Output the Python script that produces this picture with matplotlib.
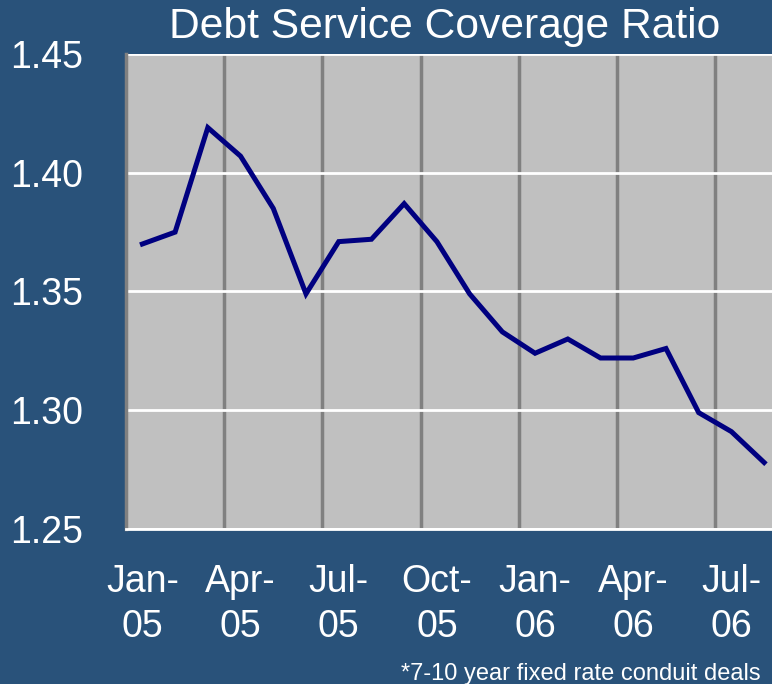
import matplotlib
matplotlib.use("Agg")
import matplotlib.pyplot as plt
import numpy as np

# monthly DSCR, Jan-05 .. Aug-06
months = ["Jan-05", "Feb-05", "Mar-05", "Apr-05", "May-05", "Jun-05", "Jul-05",
          "Aug-05", "Sep-05", "Oct-05", "Nov-05", "Dec-05", "Jan-06", "Feb-06",
          "Mar-06", "Apr-06", "May-06", "Jun-06", "Jul-06", "Aug-06"]
dscr = [1.370, 1.375, 1.419, 1.407, 1.385, 1.349, 1.371, 1.372, 1.387, 1.371,
        1.349, 1.333, 1.324, 1.330, 1.322, 1.322, 1.326, 1.299, 1.291, 1.278]
y_ticks = [1.25, 1.30, 1.35, 1.40, 1.45]

bg = "#29527A"
plt.rcParams["font.family"] = ["Liberation Sans", "DejaVu Sans"]

fig = plt.figure(figsize=(7.72, 6.84), dpi=100, facecolor=bg)
ax = fig.add_axes([126 / 772, 155 / 684, 646 / 772, 475 / 684])
ax.set_facecolor("#C0C0C0")

x = np.arange(len(months))
ax.plot(x, dscr, color="#000080", lw=3.6, solid_joinstyle="miter", zorder=3)

ax.set_xlim(-0.5, 19.24)
ax.set_ylim(1.25, 1.45)

# quarterly labels, split over two lines
major = x[::3]
ax.set_xticks(major)
ax.set_xticklabels([m.replace("-", "-\n") for m in months[::3]],
                   linespacing=1.32)
ax.set_xticks(major[1:] - 0.5, minor=True)
ax.grid(which="minor", axis="x", color="#808080", lw=2.5)
ax.set_yticks(y_ticks)
ax.set_yticklabels([f"{v:.2f}" for v in y_ticks])
ax.grid(which="major", axis="y", color="white", lw=2)
ax.set_axisbelow(True)

ax.tick_params(axis="x", which="both", length=0, pad=25, labelsize=27,
               labelcolor="white")
ax.tick_params(axis="y", length=0, pad=31, labelsize=27, labelcolor="white")

for side in ["top", "right"]:
    ax.spines[side].set_visible(False)
ax.spines["left"].set_color("#808080")
ax.spines["left"].set_linewidth(2.5)
ax.spines["bottom"].set_color("white")
ax.spines["bottom"].set_linewidth(2)

fig.text(445 / 772, 1 - 38 / 684, "Debt Service Coverage Ratio",
         ha="center", va="baseline", color="white", fontsize=30.7)
fig.text(761 / 772, 1 - 680 / 684, "*7-10 year fixed rate conduit deals",
         ha="right", va="baseline", color="white", fontsize=17)

fig.savefig("out.png", dpi=100, facecolor=bg)
